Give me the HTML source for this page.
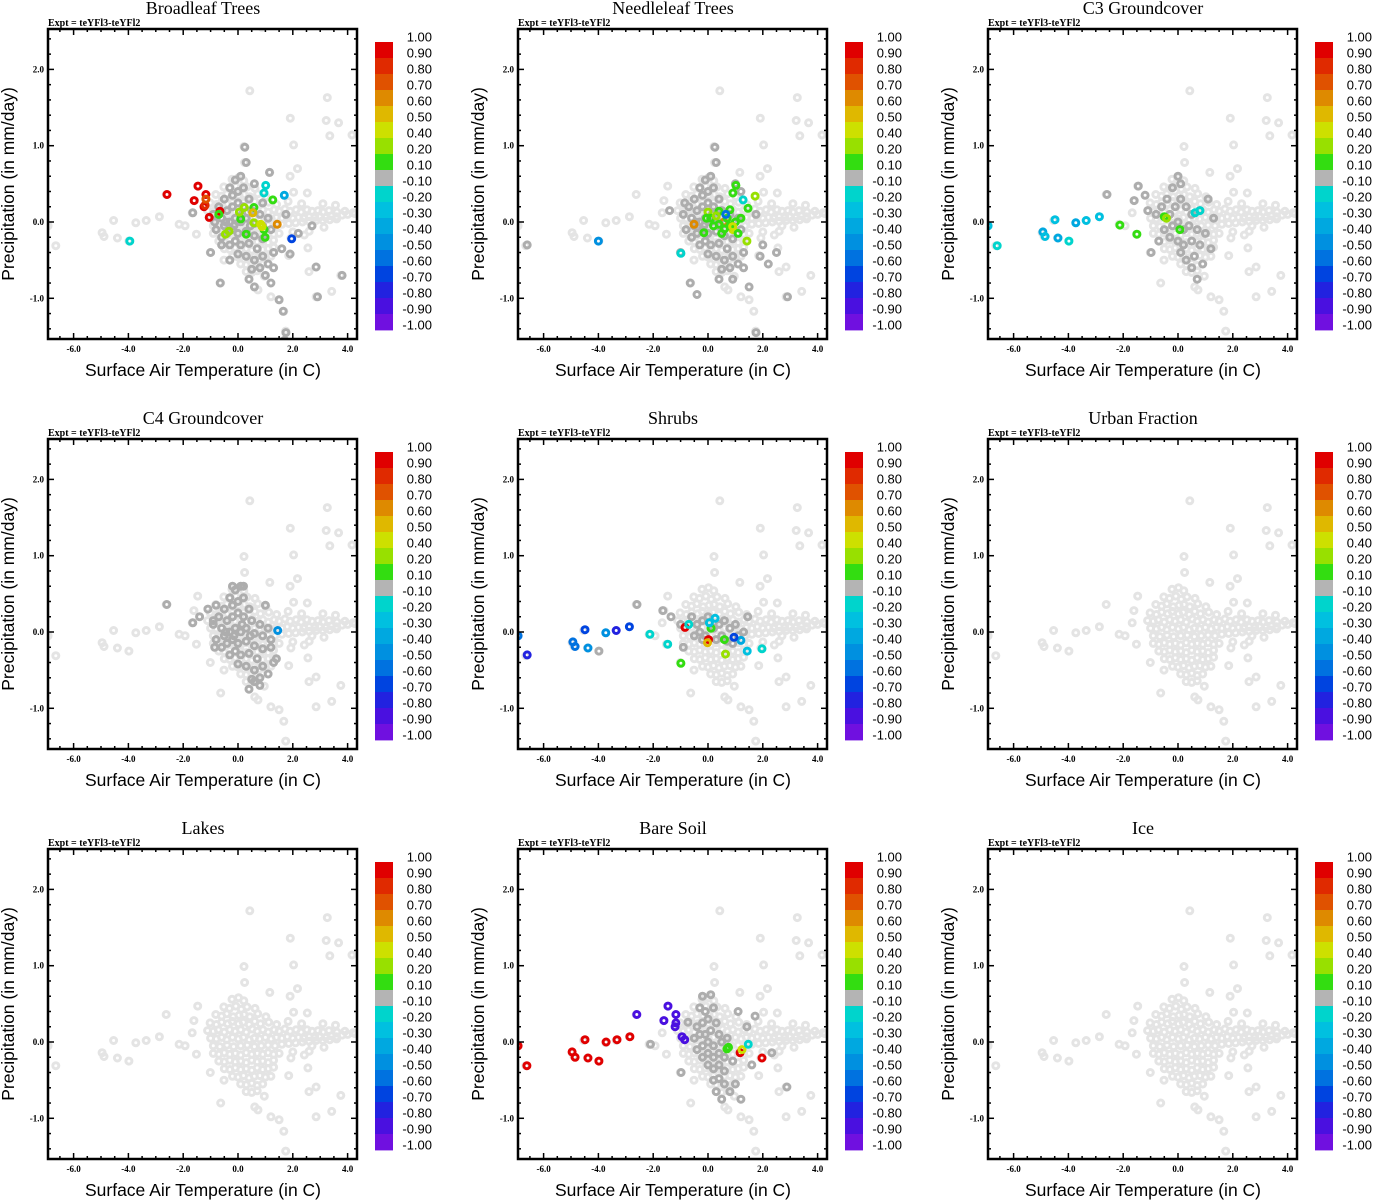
<!DOCTYPE html>
<html><head><meta charset="utf-8"><style>
html,body{margin:0;padding:0;background:#fff;}
svg{display:block;}
.ttl{font-family:"Liberation Serif",serif;font-size:18px;}
.expt{font-family:"Liberation Serif",serif;font-size:10px;font-weight:bold;}
.tick{font-family:"Liberation Serif",serif;font-size:9px;font-weight:bold;}
.axl{font-family:"Liberation Sans",sans-serif;font-size:17.5px;}
.cbl{font-family:"Liberation Sans",sans-serif;font-size:13px;}
</style></head><body>
<svg id="fig" width="1373" height="1200" viewBox="0 0 1373 1200" xmlns="http://www.w3.org/2000/svg"></svg>
<script>
// ---- data ----
const panelTitles = ["Broadleaf Trees","Needleleaf Trees","C3 Groundcover","C4 Groundcover","Shrubs","Urban Fraction","Lakes","Bare Soil","Ice"];
const xTicks = [-6,-4,-2,0,2,4];
const xTickLabels = ["-6.0","-4.0","-2.0","0.0","2.0","4.0"];
const yTicks = [-1,0,1,2];
const yTickLabels = ["-1.0","0.0","1.0","2.0"];
const cbLevels = [1,0.9,0.8,0.7,0.6,0.5,0.4,0.2,0.1,-0.1,-0.2,-0.3,-0.4,-0.5,-0.6,-0.7,-0.8,-0.9,-1];
const cbLabels = ["1.00","0.90","0.80","0.70","0.60","0.50","0.40","0.20","0.10","-0.10","-0.20","-0.30","-0.40","-0.50","-0.60","-0.70","-0.80","-0.90","-1.00"];
const cbColors = ["#e00000","#e02a00","#e05200","#de8a00","#dfb800","#cde000","#98e000","#33dd11","#b4b4b4","#00d4cc","#00c0e0","#00a8e0","#0090e0","#0072e0","#0044e0","#2222e0","#4a10e0","#7010e0"];

const bgOutliers = [[0.88,2.55],[0.43,1.72],[3.26,1.63],[1.91,1.36],[3.22,1.33],[3.67,1.30],[3.35,1.13],[4.16,1.14],[0.22,0.99],[2.03,1.01],[0.24,0.78],[1.16,0.65],[2.17,0.70],[1.90,0.60],[2.03,0.39],[2.53,0.38],[-2.62,0.36],[-1.47,0.47],[-1.61,0.28],[-1.67,0.12],[-2.87,0.07],[-3.35,0.02],[-3.73,-0.01],[-4.54,0.02],[-4.96,-0.14],[-4.89,-0.19],[-4.40,-0.21],[-3.98,-0.25],[-6.65,-0.31],[-6.93,-0.05],[-2.15,-0.03],[-1.93,-0.05],[-1.52,-0.16],[-1.01,-0.40],[-0.51,-0.50],[-0.63,-0.80],[0.61,-0.85],[0.73,-0.89],[0.96,-0.71],[1.20,-0.98],[1.50,-1.02],[1.67,-1.17],[1.74,-1.43],[2.59,-0.65],[2.85,-0.59],[2.85,-0.98],[3.42,-0.91],[3.75,-0.70],[2.55,-0.34],[2.42,-0.17],[1.93,-0.21],[1.85,-0.44],[3.14,-0.07],[3.10,0.24],[3.56,0.22],[4.27,0.11],[2.70,-0.05]];
const bgCore = [[-0.22,0.56],[0.02,0.58],[0.21,0.54],[-0.52,0.46],[-0.31,0.44],[-0.08,0.47],[0.12,0.43],[0.33,0.46],[0.62,0.44],[-0.81,0.36],[-0.6,0.34],[-0.41,0.37],[-0.18,0.33],[0.04,0.35],[0.22,0.36],[0.43,0.33],[0.72,0.37],[1.02,0.33],[-1.02,0.25],[-0.79,0.23],[-0.6,0.26],[-0.38,0.24],[-0.21,0.27],[0.02,0.24],[0.19,0.26],[0.41,0.23],[0.61,0.27],[0.82,0.24],[1.12,0.26],[1.41,0.23],[1.83,0.27],[2.32,0.24],[-1.11,0.15],[-0.9,0.14],[-0.72,0.16],[-0.5,0.13],[-0.3,0.16],[-0.11,0.14],[0.1,0.16],[0.3,0.13],[0.52,0.17],[0.7,0.14],[0.91,0.16],[1.1,0.13],[1.32,0.16],[1.5,0.14],[1.71,0.17],[1.9,0.14],[2.12,0.16],[2.3,0.13],[2.52,0.16],[2.7,0.14],[2.92,0.15],[3.1,0.13],[3.32,0.15],[3.61,0.13],[3.9,0.14],[-1.0,0.05],[-0.79,0.04],[-0.6,0.06],[-0.41,0.03],[-0.2,0.06],[0.01,0.04],[0.2,0.06],[0.41,0.03],[0.6,0.05],[0.79,0.04],[1.0,0.06],[1.21,0.04],[1.4,0.06],[1.6,0.05],[1.8,0.07],[2.0,0.05],[2.21,0.06],[2.4,0.05],[2.6,0.07],[2.8,0.06],[3.0,0.07],[3.2,0.06],[3.4,0.08],[3.6,0.07],[3.8,0.09],[4.0,0.1],[4.2,0.12],[-0.9,-0.05],[-0.66,-0.06],[-0.4,-0.04],[-0.16,-0.06],[0.1,-0.05],[0.34,-0.04],[0.6,-0.06],[0.85,-0.05],[1.1,-0.04],[1.35,-0.05],[1.6,-0.03],[1.85,-0.02],[2.1,-0.01],[2.35,0.0],[2.6,0.01],[2.85,0.02],[3.1,0.02],[3.35,0.03],[3.6,0.04],[-0.9,-0.15],[-0.7,-0.16],[-0.5,-0.14],[-0.3,-0.16],[-0.1,-0.15],[0.1,-0.17],[0.3,-0.14],[0.5,-0.16],[0.7,-0.15],[0.9,-0.16],[1.1,-0.14],[1.3,-0.16],[1.5,-0.15],[2.0,-0.13],[2.6,-0.12],[-0.7,-0.25],[-0.5,-0.26],[-0.3,-0.24],[-0.1,-0.26],[0.1,-0.25],[0.3,-0.27],[0.5,-0.24],[0.7,-0.26],[0.9,-0.25],[1.1,-0.27],[1.3,-0.24],[-0.5,-0.35],[-0.3,-0.36],[-0.1,-0.34],[0.1,-0.36],[0.3,-0.35],[0.5,-0.37],[0.7,-0.34],[0.9,-0.36],[1.1,-0.35],[1.3,-0.33],[-0.2,-0.45],[0.0,-0.46],[0.2,-0.44],[0.4,-0.47],[0.6,-0.45],[0.8,-0.44],[1.0,-0.46],[1.2,-0.45],[0.1,-0.55],[0.3,-0.56],[0.5,-0.54],[0.7,-0.57],[0.9,-0.55],[0.3,-0.65],[0.5,-0.66],[0.7,-0.64]];

const grayCore = [[-0.9,0.1],[-0.7,0.2],[-0.5,0.3],[-0.3,0.45],[-0.1,0.55],[0.1,0.6],[-0.2,0.35],[0.0,0.4],[0.2,0.45],[0.4,0.3],[-0.6,0.05],[-0.4,0.15],[-0.2,0.2],[0.0,0.25],[0.2,0.2],[0.5,0.15],[0.8,0.1],[1.1,0.05],[-0.8,-0.1],[-0.5,-0.05],[-0.3,0.0],[-0.1,0.05],[0.1,0.0],[0.3,0.05],[0.6,-0.02],[0.9,-0.05],[1.2,-0.1],[-0.6,-0.2],[-0.4,-0.15],[-0.2,-0.1],[0.0,-0.15],[0.3,-0.12],[0.6,-0.18],[0.9,-0.22],[-0.3,-0.3],[-0.1,-0.25],[0.1,-0.3],[0.4,-0.28],[0.7,-0.35],[0.0,-0.42],[0.3,-0.45],[0.6,-0.5],[0.9,-0.45],[0.5,-0.62],[0.8,-0.6],[1.1,-0.55],[0.4,-0.75],[1.3,-0.4],[-0.45,0.0],[0.15,0.1],[0.45,-0.05],[-0.15,-0.05]];
const grayBroadleaf = [[0.25,0.98],[0.3,0.78],[1.15,0.65],[-1.65,0.12],[1.75,0.1],[2.7,-0.05],[2.2,-0.15],[2.85,-0.59],[3.8,-0.7],[2.9,-0.98],[1.5,-1.02],[1.65,-1.17],[1.75,-1.45],[1.7,-1.55],[-0.65,-0.8],[0.6,-0.85],[1.0,-0.7],[-1.0,-0.4],[1.9,-0.42],[1.6,-0.35],[-0.6,-0.3],[1.2,-0.8],[1.3,-0.6],[-0.3,-0.5],[0.9,0.25],[0.6,0.5],[-0.85,0.0]];
const grayNeedleleaf = [[-6.6,-0.3],[0.25,0.98],[0.3,0.78],[-0.85,0.25],[-1.4,0.15],[1.2,0.4],[1.75,0.1],[2.0,-0.3],[2.5,-0.4],[1.5,-0.85],[2.9,-0.98],[1.9,-0.45],[-0.4,-0.95],[2.2,-0.55],[1.75,-1.45],[-0.65,-0.8],[1.0,0.5],[1.3,-0.6],[-1.0,-0.4],[0.9,-0.75]];
const grayC3 = [[-2.59,0.36],[-1.45,0.47],[-1.6,0.28],[-1.2,0.35],[-1.1,0.15],[-0.98,-0.4],[-0.8,0.1],[-0.6,0.2],[-0.4,0.3],[-0.2,0.45],[0.0,0.6],[0.1,0.5],[-0.3,0.1],[-0.1,0.2],[0.1,0.3],[0.3,0.2],[0.5,0.1],[0.8,0.15],[1.1,0.3],[1.3,0.05],[-0.5,-0.1],[-0.2,-0.05],[0.0,0.0],[0.2,-0.1],[0.4,-0.05],[0.7,-0.1],[1.0,-0.15],[-0.3,-0.2],[0.0,-0.25],[0.2,-0.3],[0.5,-0.25],[0.8,-0.3],[0.1,-0.4],[0.3,-0.5],[0.6,-0.45],[0.5,-0.6],[0.9,-0.55],[0.7,-0.75],[1.2,-0.35],[-0.7,-0.25]];
const grayC4 = [[-2.6,0.36],[-1.65,0.12],[-1.4,0.2],[-1.1,0.3],[-0.8,0.35],[0.2,0.6],[-0.2,0.6],[1.0,0.35],[1.2,-0.2],[1.4,-0.35],[0.8,-0.7],[0.6,-0.65],[-0.85,-0.2],[-0.9,0.15]];
const grayShrubs = [[-3.98,-0.25],[-2.59,0.36],[-1.65,0.28],[-1.35,0.2],[-1.0,0.1],[-0.9,-0.2],[-0.6,0.2],[-0.4,0.1],[-0.2,0.15],[0.0,0.2],[-0.5,-0.05],[-0.3,0.0],[-0.1,-0.05],[0.2,0.05],[0.4,0.1],[0.6,0.15],[0.8,0.05],[1.0,0.1],[0.3,-0.1],[0.5,-0.05],[0.7,-0.12],[1.1,-0.05],[1.3,0.0],[1.45,0.2],[-0.2,-0.1],[0.9,-0.15]];
const graySoil = [[-2.1,-0.03],[-0.98,-0.4],[-0.73,0.26],[-0.3,0.45],[1.72,0.34],[2.33,-0.14],[2.88,-0.59],[1.42,0.2],[1.0,-0.55],[1.2,-0.75],[-0.2,0.6],[0.1,0.62],[-0.1,0.4],[0.2,0.45],[-0.4,0.2],[-0.2,0.25],[0.0,0.3],[0.3,0.25],[-0.5,0.05],[-0.3,0.1],[-0.1,0.1],[0.1,0.15],[0.4,0.1],[-0.4,-0.1],[-0.2,-0.05],[0.0,0.0],[0.2,-0.05],[0.5,0.0],[0.7,0.05],[-0.2,-0.2],[0.0,-0.15],[0.2,-0.2],[0.4,-0.15],[0.6,-0.2],[0.0,-0.3],[0.2,-0.35],[0.4,-0.3],[0.6,-0.38],[0.2,-0.5],[0.4,-0.48],[0.6,-0.55],[0.3,-0.65],[0.8,-0.65],[0.5,-0.75],[0.9,-0.25],[1.6,-0.3],[1.1,0.4]];

const colBroadleaf = [[-2.59,0.36,0.9],[-1.46,0.47,0.9],[-1.6,0.28,0.9],[-1.17,0.36,0.9],[-1.24,0.2,0.9],[-1.2,0.22,0.8],[-1.17,0.3,0.7],[-1.05,0.06,0.9],[-0.66,0.14,0.9],[-3.95,-0.25,-0.2],[1.01,0.48,-0.2],[0.95,0.38,-0.2],[1.69,0.35,-0.4],[1.96,-0.22,-0.7],[1.27,0.29,0.1],[0.58,0.19,0.1],[0.1,0.04,0.1],[0.3,-0.16,0.1],[0.99,-0.2,0.1],[0.95,-0.1,0.1],[-0.7,0.1,0.1],[0.05,0.13,0.2],[0.23,0.19,0.2],[-0.46,-0.16,0.2],[-0.33,-0.12,0.2],[0.58,-0.01,0.2],[0.83,-0.03,0.4],[0.88,-0.06,0.4],[0.54,0.12,0.5],[1.43,-0.03,0.6]];
const colNeedleleaf = [[-4.0,-0.25,-0.5],[-0.99,-0.41,-0.2],[1.28,0.29,-0.2],[-0.51,-0.03,0.6],[0.58,0.0,0.6],[1.02,0.48,0.1],[0.91,0.38,0.1],[1.46,0.18,0.1],[1.72,0.34,0.2],[1.42,-0.25,0.2],[-0.15,-0.14,0.1],[0.8,0.16,0.1],[0.91,-0.1,0.4],[0.0,0.13,0.2],[0.4,0.14,0.1],[0.1,0.05,0.1],[0.4,-0.03,0.1],[0.6,-0.09,0.1],[0.8,-0.05,0.1],[1.0,0.0,0.1],[1.2,0.05,0.1],[0.2,-0.05,0.1],[0.7,0.05,0.1],[1.1,-0.15,0.1],[0.3,0.08,0.2],[0.9,-0.06,0.4],[0.65,0.1,-0.6],[-0.05,0.05,0.1],[0.5,-0.15,0.1]];
const colC3 = [[-6.93,-0.05,-0.3],[-6.6,-0.31,-0.2],[-4.93,-0.13,-0.4],[-4.85,-0.19,-0.3],[-4.49,0.03,-0.3],[-4.38,-0.21,-0.4],[-3.98,-0.25,-0.2],[-3.73,-0.01,-0.4],[-3.35,0.02,-0.3],[-2.87,0.07,-0.3],[-2.12,-0.04,0.1],[-1.5,-0.16,0.1],[-0.5,0.07,0.1],[-0.42,0.05,0.2],[0.07,-0.1,0.1],[0.8,0.15,-0.2],[0.62,0.12,-0.2]];
const colC4 = [[1.45,0.02,-0.5]];
const colShrubs = [[-6.93,-0.05,-0.6],[-6.6,-0.3,-0.8],[-4.93,-0.13,-0.6],[-4.85,-0.19,-0.6],[-4.49,0.03,-0.7],[-4.38,-0.21,-0.5],[-3.73,-0.01,-0.5],[-3.35,0.02,-0.8],[-2.87,0.07,-0.7],[-2.12,-0.03,-0.2],[-1.47,-0.16,-0.2],[-0.99,-0.41,0.1],[-0.84,0.06,0.9],[0.02,-0.1,0.9],[-0.02,-0.14,0.5],[0.11,0.05,0.1],[0.6,-0.1,0.1],[0.64,-0.29,0.2],[0.26,0.18,-0.3],[0.05,0.12,-0.3],[-0.7,0.1,-0.2],[1.2,-0.11,-0.4],[0.95,-0.07,-0.7],[1.43,-0.25,-0.3],[1.97,-0.22,-0.2]];
const colSoil = [[-6.93,-0.05,0.9],[-6.61,-0.31,0.9],[-4.96,-0.13,0.9],[-4.85,-0.2,0.9],[-4.49,0.03,0.9],[-4.38,-0.21,0.9],[-3.98,-0.25,0.9],[-3.72,0.0,0.9],[-3.32,0.03,0.9],[-2.85,0.07,0.9],[1.17,-0.14,0.9],[1.97,-0.21,0.9],[-2.6,0.36,-0.9],[-1.46,0.47,-0.9],[-1.17,0.36,-0.9],[-1.61,0.28,-0.9],[-1.2,0.2,-0.9],[-1.17,0.25,-0.9],[-0.95,0.07,-0.9],[-0.85,0.03,-0.9],[0.69,-0.09,0.1],[0.75,-0.07,0.1],[1.24,-0.1,0.4],[1.47,-0.03,-0.2]];

const panelGrays = [grayCore.concat(grayBroadleaf), grayCore.concat(grayNeedleleaf), grayC3, grayCore.concat(grayC4), grayShrubs, [], [], graySoil, []];
const panelCols = [colBroadleaf, colNeedleleaf, colC3, colC4, colShrubs, [], [], colSoil, []];

// ---- drawing ----
const NS = "http://www.w3.org/2000/svg";
const svg = document.getElementById("fig");
function mk(tag, attrs, parent){const e=document.createElementNS(NS,tag);for(const k in attrs)e.setAttribute(k,attrs[k]);(parent||svg).appendChild(e);return e;}
const BOX = {l:48, r:357, t:29, b:339};
function xs(ox, v){return ox + 238 + v*27.4;}
function ys(oy, v){return oy + 222 - v*76.3;}
function colorFor(v){for(let i=0;i<18;i++){if(v>=cbLevels[i+1]-1e-9)return cbColors[i];}return cbColors[17];}

function marker(g, ox, oy, x, y, color){
  return mk("circle",{cx:xs(ox,x).toFixed(1),cy:ys(oy,y).toFixed(1),r:3.0,fill:"none",stroke:color,"stroke-width":3.0},g);
}

for(let p=0;p<9;p++){
  const ox = (p%3)*470, oy = Math.floor(p/3)*410;
  const g = mk("g",{});
  
  
  const t = mk("text",{x:ox+203,y:oy+14,"text-anchor":"middle",class:"ttl"},g); t.textContent=panelTitles[p];
  
  
  const e = mk("text",{x:ox+48,y:oy+26,class:"expt"},g); e.textContent="Expt = teYFl3-teYFl2";
  
  
  const cp = mk("clipPath",{id:"clip"+p},g);
  mk("rect",{x:ox+BOX.l,y:oy+BOX.t,width:BOX.r-BOX.l,height:BOX.b-BOX.t},cp);
  const pts = mk("g",{"clip-path":"url(#clip"+p+")"},g);
  
  
  bgOutliers.concat(bgCore).forEach(d=>{
    const c = marker(pts,ox,oy,d[0],d[1],"#e4e4e4");
    
    
  });
  panelGrays[p].forEach(d=>{
    const c = marker(pts,ox,oy,d[0],d[1],"#adadad");
    
    
  });
  panelCols[p].forEach(d=>{
    const c = marker(pts,ox,oy,d[0],d[1],colorFor(d[2]));
    
    
  });
  const fr = mk("rect",{x:ox+BOX.l,y:oy+BOX.t,width:BOX.r-BOX.l,height:BOX.b-BOX.t,fill:"none",stroke:"#000","stroke-width":2.5},g);
  
  
  for(let k=-13;k<=8;k++){
    const v=k*0.5, X=xs(ox,v); if(X<ox+BOX.l+1||X>ox+BOX.r-1)continue;
    const L = (k%4===0)?6:3;
    mk("line",{x1:X,x2:X,y1:oy+BOX.b,y2:oy+BOX.b-L,stroke:"#000","stroke-width":1.5},g);
    mk("line",{x1:X,x2:X,y1:oy+BOX.t,y2:oy+BOX.t+L,stroke:"#000","stroke-width":1.5},g);
  }
  xTicks.forEach((v,i)=>{
    const tx = mk("text",{x:xs(ox,v),y:oy+352,"text-anchor":"middle",class:"tick"},g); tx.textContent=xTickLabels[i];
    
    
  });
  for(let k=-7;k<=12;k++){
    const v=k*0.2, Y=ys(oy,v); if(Y<oy+BOX.t+1||Y>oy+BOX.b-1)continue;
    const L = (k%5===0)?6:3;
    mk("line",{x1:ox+BOX.l,x2:ox+BOX.l+L,y1:Y,y2:Y,stroke:"#000","stroke-width":1.5},g);
    mk("line",{x1:ox+BOX.r,x2:ox+BOX.r-L,y1:Y,y2:Y,stroke:"#000","stroke-width":1.5},g);
  }
  yTicks.forEach((v,i)=>{
    const ty = mk("text",{x:ox+44,y:ys(oy,v)+3,"text-anchor":"end",class:"tick"},g); ty.textContent=yTickLabels[i];
    
    
  });
  const xl = mk("text",{x:ox+203,y:oy+376,"text-anchor":"middle",class:"axl"},g); xl.textContent="Surface Air Temperature (in C)";
  
  
  const yl = mk("text",{x:0,y:0,"text-anchor":"middle",class:"axl",transform:"translate("+(ox+14)+","+(oy+184)+") rotate(-90)"},g); yl.textContent="Precipitation (in mm/day)";
  
  
  const cb = mk("g",{},g);
  
  
  const segH = 16;
  cbColors.forEach((c,i)=>{
    const r = mk("rect",{x:ox+375,y:oy+42+i*segH,width:18,height:segH+0.4,fill:c},cb);
    
    
  });
  cbLabels.forEach((s,i)=>{
    const tl = mk("text",{x:ox+432,y:oy+41.5+i*segH,"text-anchor":"end",class:"cbl"},cb); tl.textContent=s;
    
    
  });
}
</script>
</body></html>
